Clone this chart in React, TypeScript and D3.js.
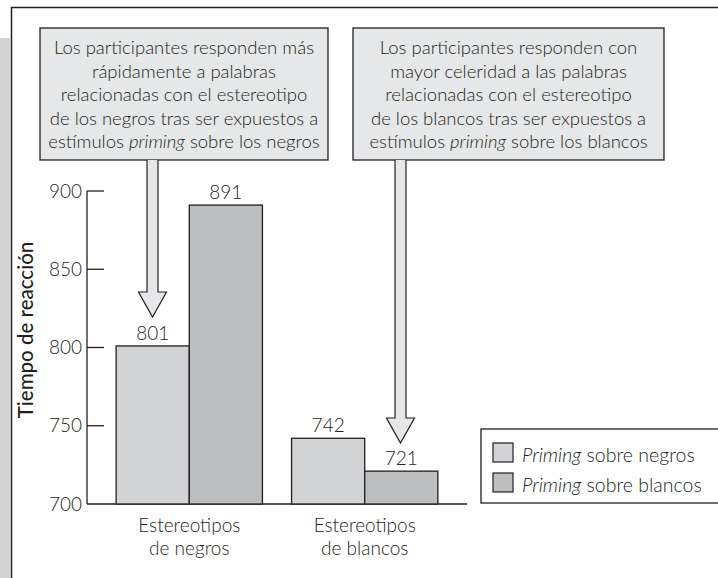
import React from "react";
import * as d3 from "d3";

const categories = ["Estereotipos de negros", "Estereotipos de blancos"];
const categoryLines = [["Estereotipos", "de negros"], ["Estereotipos", "de blancos"]];
const seriesNames = ["sobre negros", "sobre blancos"];
const primingNegros = [801, 742];
const primingBlancos = [891, 721];
const yTicks = [700, 750, 800, 850, 900];
const callout1 = [
  ["Los participantes responden más"],
  ["rápidamente a palabras"],
  ["relacionadas con el estereotipo"],
  ["de los negros tras ser expuestos a"],
  ["estímulos ", "priming", " sobre los negros"],
];
const callout2 = [
  ["Los participantes responden con"],
  ["mayor celeridad a las palabras"],
  ["relacionadas con el estereotipo"],
  ["de los blancos tras ser expuestos a"],
  ["estímulos ", "priming", " sobre los blancos"],
];

const FONT = "Lato, 'Open Sans', sans-serif";
const TXT = "#231f20";
const C1 = "#d1d3d4";
const C2 = "#bcbec0";
const BOXF = "#e6e7e8";

export default function App() {
  const W = 718, H = 578;
  const plotLeft = 87, plotRight = 467, plotTop = 191, plotBottom = 504;
  const y = d3.scaleLinear().domain([700, 900]).range([plotBottom, plotTop]);
  const x0 = d3.scaleBand().domain(categories).range([plotLeft, plotRight]).paddingInner(0.166).paddingOuter(0.166);
  const x1 = d3.scaleBand().domain(seriesNames).range([0, x0.bandwidth()]);
  const series = [primingNegros, primingBlancos];
  const colors = [C1, C2];

  const arrow = (cx: number, y0: number, tipY: number) => {
    const sw = 5.5, hw = 14, hh = 25;
    const hy = tipY - hh;
    return `M${cx - sw},${y0} L${cx - sw},${hy} L${cx - hw},${hy} L${cx},${tipY} L${cx + hw},${hy} L${cx + sw},${hy} L${cx + sw},${y0}`;
  };

  const renderCallout = (lines: string[][], x: number, w: number) => (
    <g>
      <rect x={x} y={28} width={w} height={132} fill={BOXF} stroke="#231f20" strokeWidth={1.3} />
      {lines.map((parts, i) => (
        <text key={i} x={x + w / 2} y={54 + i * 23.5} textAnchor="middle" fontSize={18.5} fontWeight={300} fill={TXT}>
          {parts.map((p, j) => (
            <tspan key={j} fontStyle={p === "priming" ? "italic" : "normal"}>{p}</tspan>
          ))}
        </text>
      ))}
    </g>
  );

  return (
    <svg width={W} height={H} style={{ position: "absolute", left: 0, top: 0, fontFamily: FONT }}>
      <rect x={0} y={0} width={W} height={H} fill="#fff" />
      <rect x={0} y={38} width={10} height={H - 38} fill="#d1d3d4" />
      <path d={`M11.5,${H} L11.5,7.5 L${W},7.5`} fill="none" stroke="#231f20" strokeWidth={1.5} />

      {renderCallout(callout1, 40, 288)}
      {renderCallout(callout2, 353, 311)}

      {/* axes */}
      <line x1={plotLeft} x2={plotLeft} y1={plotTop} y2={plotBottom} stroke="#231f20" strokeWidth={1.3} />
      <line x1={plotLeft} x2={plotRight} y1={plotBottom} y2={plotBottom} stroke="#231f20" strokeWidth={1.3} />
      {yTicks.map((t) => (
        <g key={t}>
          {t !== 700 && <line x1={plotLeft} x2={plotLeft + 17} y1={y(t)} y2={y(t)} stroke="#231f20" strokeWidth={1.3} />}
          <text x={82} y={y(t) + 6.5} textAnchor="end" fontSize={19} fontWeight={300} fill={TXT}>{t}</text>
        </g>
      ))}
      <text transform={`translate(33,330) rotate(-90)`} textAnchor="middle" fontSize={20.5} fontWeight={500} fill={TXT}>Tiempo de reacción</text>

      {/* bars */}
      {categories.map((c, ci) => (
        <g key={c} transform={`translate(${x0(c)},0)`}>
          {series.map((s, si) => (
            <g key={si}>
              <rect x={x1(seriesNames[si])} y={y(s[ci])} width={x1.bandwidth()} height={plotBottom - y(s[ci])} fill={colors[si]} stroke="#231f20" strokeWidth={1.3} />
              <text x={(x1(seriesNames[si]) as number) + x1.bandwidth() / 2} y={y(s[ci]) - 6} textAnchor="middle" fontSize={19} fontWeight={300} fill={TXT}>{s[ci]}</text>
            </g>
          ))}
          {categoryLines[ci].map((l, li) => (
            <text key={li} x={x0.bandwidth() / 2} y={532 + li * 23} textAnchor="middle" fontSize={19} fontWeight={300} fill={TXT}>{l}</text>
          ))}
        </g>
      ))}

      {/* arrows */}
      <path d={arrow(152.5, 160, 317)} fill={BOXF} stroke="#231f20" strokeWidth={1.2} />
      <path d={arrow(400.5, 160, 443)} fill={BOXF} stroke="#231f20" strokeWidth={1.2} />

      {/* legend */}
      <rect x={481} y={429} width={240} height={74} fill="#fff" stroke="#231f20" strokeWidth={1.3} />
      {seriesNames.map((n, i) => (
        <g key={n}>
          <rect x={493} y={443 + i * 30} width={20} height={19} fill={colors[i]} stroke="#231f20" strokeWidth={1.2} />
          <text x={522} y={462 + i * 30} fontSize={19.5} fontWeight={300} fill={TXT}>
            <tspan fontStyle="italic">Priming</tspan> {n}
          </text>
        </g>
      ))}
    </svg>
  );
}
